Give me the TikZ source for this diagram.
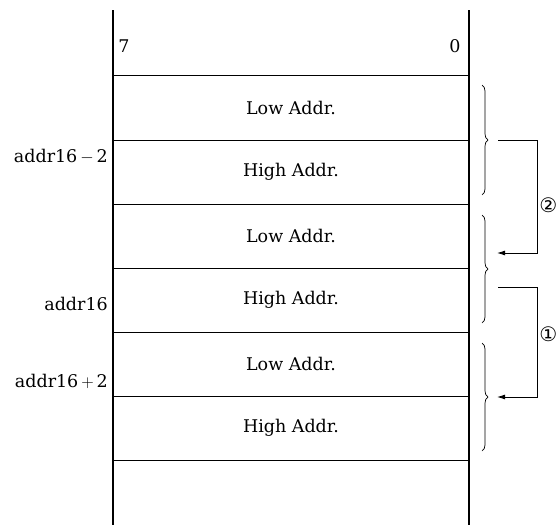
\documentclass[tikz,border=0pt]{standalone}
\usepackage{fontspec}
\setmainfont{DejaVu Serif}
\newfontfamily\symfont{DejaVu Sans}
\usetikzlibrary{decorations.pathreplacing,arrows.meta}
\begin{document}
\begin{tikzpicture}[x=1pt,y=-1pt,
  cell/.style={minimum width=356pt,minimum height=64pt,inner sep=0pt,font=\fontsize{17.5}{20}\selectfont},
  lbl/.style={anchor=east,inner sep=0pt,font=\fontsize{17.5}{20}\selectfont},
  bit/.style={inner sep=0pt,font=\fontsize{17.5}{20}\selectfont},
  circ/.style={inner sep=0pt,anchor=east,font=\symfont\fontsize{20}{22}\selectfont},
  rowline/.style={line width=0.8pt},
  wall/.style={line width=1.6pt},
  brc/.style={decorate,decoration={brace,amplitude=6pt},line width=0.7pt},
  flow/.style={line width=0.9pt,-{Latex[length=8pt,width=5pt]}}]
\useasboundingbox (0,0) rectangle (558,525);
% rows
\node[cell] (r1) at (291,107.5) {Low Addr.};
\node[cell] (r2) at (291,172) {High Addr.};
\node[cell] (r3) at (291,236) {Low Addr.};
\node[cell] (r4) at (291,300) {High Addr.};
\node[cell] (r5) at (291,364) {Low Addr.};
\node[cell] (r6) at (291,428) {High Addr.};
\node[bit] (b7) at (124,46) {7};
\node[bit] (b0) at (455,46) {0};
% walls
\draw[wall] (113,10) -- (113,525);
\draw[wall] (469,10) -- (469,525);
% row lines
\foreach \y in {75,140,204,268,332,396,460}
  \draw[rowline] (113,\y) -- (469,\y);
% left labels
\node[lbl] (a1) at (108,157) {addr16\,$-$\,2};
\node[lbl] (a2) at (108,304) {addr16};
\node[lbl] (a3) at (108,381) {addr16\,$+$\,2};
% braces
\coordinate (ba1) at (482,85);  \coordinate (ba2) at (482,195);
\coordinate (bb1) at (482,215); \coordinate (bb2) at (482,323);
\coordinate (bc1) at (482,343); \coordinate (bc2) at (482,451);
\draw[brc] (ba1) -- (ba2);
\draw[brc] (bb1) -- (bb2);
\draw[brc] (bc1) -- (bc2);
% arrows
\coordinate (s2) at (498,140); \coordinate (e2) at (497,253);
\coordinate (s1) at (498,287); \coordinate (e1) at (497,397);
\draw[flow] (s2) -- (537,140) -- (537,253) -- (e2);
\draw[flow] (s1) -- (537,287) -- (537,397) -- (e1);
\node[circ] (c2) at (557.5,205) {②};
\node[circ] (c1) at (557.5,334) {①};
\end{tikzpicture}
\end{document}
